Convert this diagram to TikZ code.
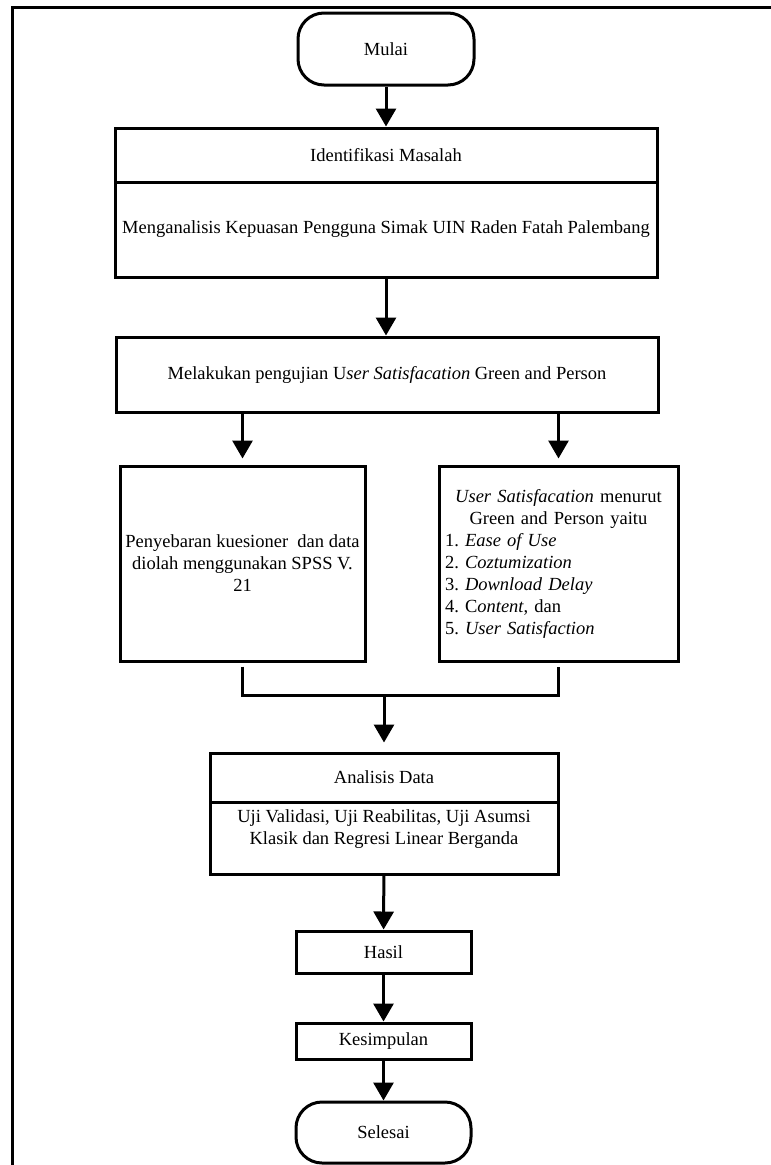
\documentclass[tikz,border=0pt]{standalone}
\usepackage{fontspec}
\setmainfont{Liberation Serif}
\usetikzlibrary{arrows.meta}

\begin{document}
\begin{tikzpicture}[x=1pt,y=-1pt]
        \tikzstyle{every node} = [font=\fontsize{18.5}{22}\selectfont\frenchspacing,inner sep=0pt]
        \tikzstyle{proses} = [rectangle,draw,line width=3pt]
        \tikzstyle{terminal} = [rectangle,draw,line width=3pt,rounded corners=26pt]
        \tikzstyle{panah} = [-{Triangle[length=18pt,width=20pt]},line width=3pt]
        \useasboundingbox (0,0) rectangle (771,1165);
        \draw [line width=2.2pt] (771,7.5) -- (12.5,7.5) -- (12.5,1166);
        \node [terminal,minimum width=176pt,minimum height=72pt] (mulai) at (386,49) {Mulai};
        \node [proses,minimum width=542pt,minimum height=54pt] (ident) at (386,155) {Identifikasi Masalah};
        \node [proses,minimum width=542pt,minimum height=95pt] (identdesc) at (386,229.5) {Menganalisis Kepuasan Pengguna Simak UIN Raden Fatah Palembang};
        \node [proses,minimum width=542pt,minimum height=75pt] (uji) at (387,374.5) {Melakukan pengujian U\textit{ser Satisfacation} Green and Person};
        \node [proses,minimum width=245pt,minimum height=195pt,align=center] (sebar) at (242.5,563.5) {Penyebaran kuesioner\ \ dan data\\diolah menggunakan SPSS V.\\21};
        \node [proses,minimum width=239pt,minimum height=195pt,text width=227pt] (green) at (558.5,563.5) {{\centering\textit{User Satisfacation} menurut\\Green and Person yaitu\par}{\raggedright\noindent 1. \textit{Ease of Use}\\2. \textit{Coztumization}\\3. \textit{Download Delay}\\4. C\textit{ontent}, dan\\5. \textit{User Satisfaction}\par}};
        \node [proses,minimum width=348pt,minimum height=49pt] (analisis) at (384,777.5) {Analisis Data};
        \node [proses,minimum width=348pt,minimum height=72pt,align=center] (analisisdesc) at (384,838) {Uji Validasi, Uji Reabilitas, Uji Asumsi\\Klasik dan Regresi Linear Berganda\\\mbox{}};
        \node [proses,minimum width=175pt,minimum height=42pt] (hasil) at (383.5,952) {Hasil};
        \node [proses,minimum width=175pt,minimum height=36pt] (kesimpulan) at (383.5,1041) {Kesimpulan};
        \node [terminal,minimum width=175pt,minimum height=61pt] (selesai) at (383.5,1132.5) {Selesai};
        \coordinate (gabung) at (384,695);
        \draw [panah] (mulai) -- (ident);
        \draw [panah] (identdesc.south) -- (identdesc.south |- uji.north);
        \draw [panah,shorten >=6pt] (uji.south -| sebar) -- (sebar.north);
        \draw [panah,shorten >=6pt] (uji.south -| green) -- (green.north);
        \draw [line width=3pt] ([yshift=-4pt]sebar.south) |- (gabung) -| ([yshift=-4pt]green.south);
        \draw [panah,shorten >=9pt] (gabung) -- (analisis);
        \draw [panah] (analisisdesc) -- (hasil);
        \draw [panah] (hasil) -- (kesimpulan);
        \draw [panah] (kesimpulan) -- (selesai);
      \end{tikzpicture}
\end{document}
